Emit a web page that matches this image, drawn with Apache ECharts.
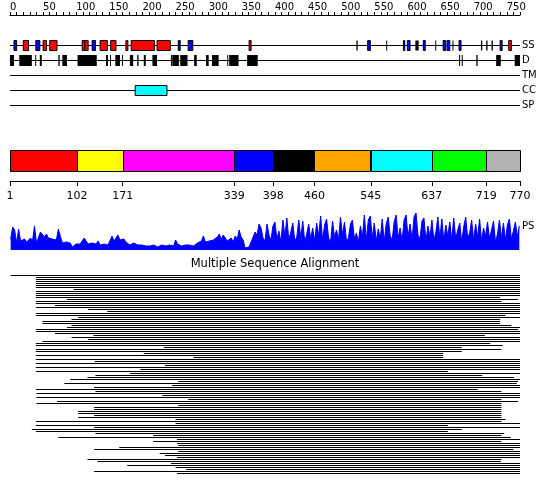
<!DOCTYPE html>
<html>
<head>
<meta charset="utf-8">
<script src="https://cdn.jsdelivr.net/npm/echarts@6/dist/echarts.min.js"></script>
<style>
  html, body { margin: 0; padding: 0; background: #fff; }
  #main { width: 550px; height: 495px; }
</style>
</head>
<body>
<div id="main"></div>
<script>
// ---- data (residue numbers, 1..770) ----
const seqLength = 770
const rulerLabels = [0, 50, 100, 150, 200, 250, 300, 350, 400, 450, 500, 550, 600, 650, 700, 750]
const trackNames = ['SS', 'D', 'TM', 'CC', 'SP']

// secondary structure: [start, end]
const ssHelix = [[20, 28], [50, 55], [60, 71], [109, 113], [113, 118], [136, 147], [152, 160], [175, 178],
  [183, 218], [222, 242], [361, 364], [753, 757]]
const ssStrand = [[6, 10], [39, 45], [124, 129], [254, 257], [269, 276], [540, 544], [594, 596], [600, 604],
  [624, 627], [654, 658], [660, 664], [678, 681], [740, 743]]
const ssOther = [[523, 525], [568, 569], [612, 617], [642, 643], [668, 669], [711, 713], [719, 721], [727, 729]]
// disorder
const disorder = [[0, 6], [14, 33], [38, 39], [45, 48], [73, 75], [79, 86], [102, 131], [145, 148], [151, 152],
  [159, 166], [169, 170], [181, 186], [192, 194], [202, 205], [215, 222], [243, 244], [245, 255], [257, 268],
  [278, 282], [296, 300], [305, 315], [328, 329], [331, 345], [358, 374], [678, 679], [682, 683], [704, 706],
  [734, 741], [762, 770]]
const coiledCoil = [[189, 237]]

// domain boundaries
const domainBounds = [1, 102, 171, 339, 398, 460, 545, 637, 719, 770]
const domainColors = ['#ff0000', '#ffff00', '#ff00ff', '#0000ff', '#000000', '#ffa500', '#00ffff', '#00ff00', '#b3b3b3']

// PS profile, one value every 3 residues
const psScore = [
  11, 23, 20, 7, 21, 9, 10, 11, 8, 10,
  12, 9, 24, 7, 8, 18, 17, 13, 16, 12,
  14, 11, 13, 10, 21, 19, 7, 9, 8, 10,
  7, 3, 4, 6, 5, 6, 8, 12, 12, 6,
  5, 7, 5, 6, 9, 5, 4, 6, 4, 5,
  5, 14, 9, 8, 15, 10, 9, 11, 8, 6,
  5, 7, 7, 6, 5, 4, 5, 3, 4, 6,
  4, 3, 5, 4, 3, 4, 5, 3, 4, 3,
  5, 4, 4, 10, 6, 5, 4, 6, 5, 3,
  5, 6, 4, 5, 7, 6, 9, 14, 8, 6,
  9, 7, 10, 8, 13, 16, 11, 15, 12, 9,
  10, 12, 8, 14, 11, 20, 13, 10, 2, 1,
  3, 8, 13, 18, 15, 26,
  22, 12, 9, 26, 15, 10, 24, 28, 11, 19,
  8, 30, 14, 32, 10, 18, 27, 9, 13, 30,
  12, 29, 8, 16, 26, 11, 22, 9, 27, 14,
  34, 10, 25, 31, 12, 8, 29, 13, 20, 10,
  33, 15, 28, 9, 12, 26, 30, 11, 17, 8,
  24, 13, 35, 10, 30, 34, 12, 27, 9, 21,
  11, 31, 8, 26, 33, 14, 10, 28, 35, 12,
  22, 9, 30, 35, 13, 26, 10, 33, 37, 15,
  11, 29, 32, 9, 24, 13, 30, 10, 18, 33,
  12, 31, 9, 25, 14, 28, 10, 32, 11, 20,
  27, 8, 23, 33, 12, 17, 30, 10, 26, 13,
  31, 9, 22, 14, 28, 11, 20, 29, 8, 16,
  30, 12, 27, 10, 25, 31, 11, 19, 28, 14, 24
]

// multiple sequence alignment: first row is the query
const msaStart = [1,
  39, 39, 39, 39, 39, 39, 96, 39, 39, 39,
  39, 86, 39, 39, 68, 39, 118, 147, 39, 39,
  103, 93, 49, 49, 93, 86, 39, 39, 68, 126,
  93, 118, 49, 39, 39, 232, 39, 39, 202, 39,
  277, 39, 128, 39, 234, 39, 197, 39, 181, 129,
  117, 91, 254, 82, 245, 127, 39, 129, 40, 230,
  40, 269, 71, 40, 254, 127, 127, 103, 103, 127,
  103, 250, 39, 250, 39, 127, 33, 39, 129, 216,
  73, 252, 216, 252, 254, 165, 127, 254, 226, 234,
  252, 117, 132, 243, 177, 250, 266, 127, 252]
const msaEnd = [770,
  770, 770, 770, 770, 770, 770, 770, 770, 770, 770,
  740, 767, 742, 770, 770, 770, 770, 770, 770, 748,
  770, 740, 740, 740, 757, 770, 767, 770, 770, 717,
  770, 770, 770, 725, 744, 682, 742, 682, 654, 654,
  654, 770, 770, 770, 770, 770, 770, 661, 770, 713,
  761, 770, 767, 765, 770, 770, 706, 742, 770, 770,
  770, 742, 767, 742, 742, 742, 742, 742, 742, 742,
  742, 748, 742, 770, 661, 770, 682, 661, 746, 742,
  756, 770, 742, 770, 770, 770, 760, 770, 770, 770,
  770, 742, 741, 770, 770, 770, 770, 770, 770]

const FONT = 'DejaVu Sans'

function segRender(height, stroke) {
  return function(params, api) {
    const p0 = api.coord([api.value(0), api.value(2)])
    const p1 = api.coord([api.value(1), api.value(2)])
    const y = Math.round(p0[1])
    return {
      type: 'rect',
      shape: { x: p0[0], y: y - height / 2 + 0.5, width: Math.max(p1[0] - p0[0], 1), height: height },
      style: { fill: api.visual('color'), stroke: stroke || null, lineWidth: stroke ? 1 : 0 }
    }
  }
}

function trackLine(params, api) {
  const p0 = api.coord([api.value(0), api.value(2)])
  const p1 = api.coord([api.value(1), api.value(2)])
  const y = Math.round(p0[1]) + 0.5
  return {
    type: 'line',
    shape: { x1: p0[0], y1: y, x2: p1[0], y2: y },
    style: { stroke: '#000', lineWidth: 1 }
  }
}

function domainRender(params, api) {
  const p0 = api.coord([api.value(0), 1])
  const p1 = api.coord([api.value(1), 0])
  return {
    type: 'rect',
    shape: { x: Math.round(p0[0]) + 0.5, y: Math.round(p0[1]) + 0.5, width: Math.round(p1[0] - p0[0]), height: Math.round(p1[1] - p0[1]) },
    style: { fill: domainColors[api.value(2)], stroke: '#000', lineWidth: 1 }
  }
}

function msaRender(params, api) {
  const p0 = api.coord([api.value(0), api.value(2)])
  const p1 = api.coord([api.value(1), api.value(2)])
  return {
    type: 'rect',
    shape: { x: p0[0], y: Math.round(p0[1] - 0.5), width: p1[0] - p0[0], height: 1 },
    style: { fill: '#000' }
  }
}

const onRow = (list, row) => list.map(s => [s[0], s[1], row])

const rulerTicks = []
for (let v = 0; v <= seqLength; v += 10) rulerTicks.push(v)

const domainData = []
for (let i = 0; i < domainBounds.length - 1; i++) domainData.push([domainBounds[i], domainBounds[i + 1], i])

const psData = psScore.map((v, i) => [1 + i * 3, v])
const msaData = msaStart.map((s, i) => [s, msaEnd[i], i])

const labelStyle = { color: '#000', fontFamily: FONT, fontSize: 10 }

var myChart = echarts.init(document.getElementById('main'))
myChart.setOption({
  animation: false,
  backgroundColor: '#fff',
  title: {
    text: 'Multiple Sequence Alignment',
    left: 'center',
    top: 258,
    padding: 0,
    textStyle: { color: '#000', fontFamily: FONT, fontSize: 11.5, fontWeight: 'normal' }
  },
  grid: [
    { left: 10, right: 30, top: 15, height: 95 },
    { left: 10, right: 30, top: 150, height: 21 },
    { left: 10, right: 30, top: 213, height: 37 },
    { left: 10, right: 30, top: 270, height: 208 }
  ],
  xAxis: [
    {
      gridIndex: 0, type: 'value', min: 0, max: seqLength, position: 'top',
      splitLine: { show: false },
      axisLine: { onZero: false, lineStyle: { color: '#000' } },
      axisTick: { customValues: rulerTicks, length: 3, lineStyle: { color: '#000' } },
      axisLabel: Object.assign({ customValues: rulerLabels, align: 'left', margin: 3 }, labelStyle)
    },
    {
      gridIndex: 1, type: 'value', min: 1, max: seqLength, position: 'bottom', offset: 10,
      splitLine: { show: false },
      axisLine: { onZero: false, lineStyle: { color: '#000' } },
      axisTick: { customValues: domainBounds, length: 5, lineStyle: { color: '#000' } },
      axisLabel: Object.assign({}, labelStyle, { customValues: domainBounds, margin: 10, fontSize: 11 })
    },
    { gridIndex: 2, type: 'value', min: 0, max: seqLength, show: false },
    { gridIndex: 3, type: 'value', min: 0, max: seqLength, show: false }
  ],
  yAxis: [
    {
      gridIndex: 0, type: 'value', min: -2, max: 4.3333, inverse: true, position: 'right',
      splitLine: { show: false }, axisLine: { show: false, onZero: false }, axisTick: { show: false },
      axisLabel: Object.assign({ customValues: [0, 1, 2, 3, 4], formatter: v => trackNames[v], margin: 2 }, labelStyle)
    },
    { gridIndex: 1, type: 'value', min: 0, max: 1, show: false },
    {
      gridIndex: 2, type: 'value', min: 0, max: 37, position: 'right',
      splitLine: { show: false }, axisLine: { show: false, onZero: false }, axisTick: { show: false },
      axisLabel: Object.assign({ customValues: [24], formatter: () => 'PS', margin: 2 }, labelStyle)
    },
    { gridIndex: 3, type: 'value', min: -2.75, max: 101.25, inverse: true, show: false }
  ],
  series: [
    {
      type: 'custom', xAxisIndex: 0, yAxisIndex: 0, renderItem: trackLine, z: 1,
      encode: { x: [0, 1], y: 2 },
      data: trackNames.map((n, k) => [0, seqLength, k])
    },
    {
      type: 'custom', xAxisIndex: 0, yAxisIndex: 0, renderItem: segRender(10, '#000'), z: 2,
      itemStyle: { color: '#ff0000' }, encode: { x: [0, 1], y: 2 }, data: onRow(ssHelix, 0)
    },
    {
      type: 'custom', xAxisIndex: 0, yAxisIndex: 0, renderItem: segRender(10, '#000'), z: 2,
      itemStyle: { color: '#0000ff' }, encode: { x: [0, 1], y: 2 }, data: onRow(ssStrand, 0)
    },
    {
      type: 'custom', xAxisIndex: 0, yAxisIndex: 0, renderItem: segRender(10, null), z: 2,
      itemStyle: { color: '#000' }, encode: { x: [0, 1], y: 2 }, data: onRow(ssOther, 0)
    },
    {
      type: 'custom', xAxisIndex: 0, yAxisIndex: 0, renderItem: segRender(11, null), z: 2,
      itemStyle: { color: '#000' }, encode: { x: [0, 1], y: 2 }, data: onRow(disorder, 1)
    },
    {
      type: 'custom', xAxisIndex: 0, yAxisIndex: 0, renderItem: segRender(10, '#000'), z: 2,
      itemStyle: { color: '#00ffff' }, encode: { x: [0, 1], y: 2 }, data: onRow(coiledCoil, 3)
    },
    {
      type: 'custom', xAxisIndex: 1, yAxisIndex: 1, renderItem: domainRender,
      encode: { x: [0, 1] }, data: domainData
    },
    {
      type: 'line', xAxisIndex: 2, yAxisIndex: 2, data: psData,
      symbol: 'none', smooth: false,
      lineStyle: { color: '#0000ff', width: 1 },
      areaStyle: { color: '#0000ff', opacity: 1 }
    },
    {
      type: 'custom', xAxisIndex: 3, yAxisIndex: 3, renderItem: msaRender,
      encode: { x: [0, 1], y: 2 }, data: msaData
    }
  ]
})
</script>
</body>
</html>
